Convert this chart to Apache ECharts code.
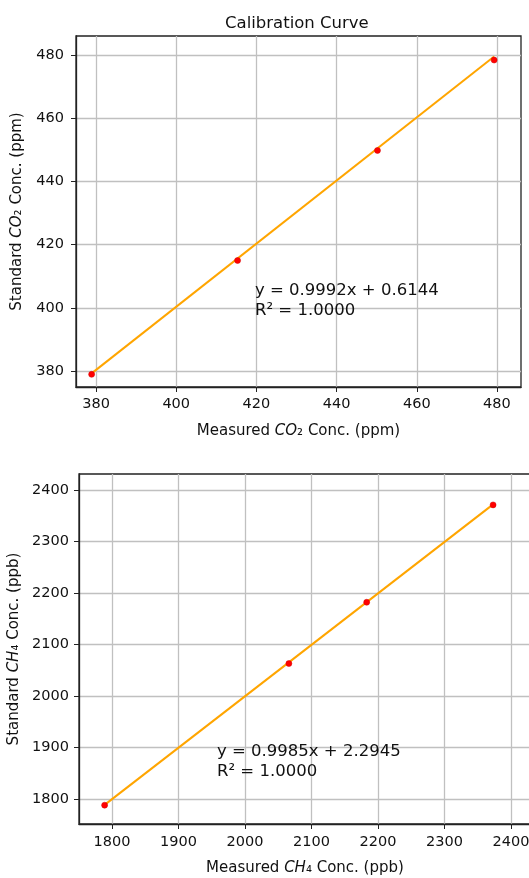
<!DOCTYPE html>
<html>
<head>
<meta charset="utf-8">
<script src="https://cdn.jsdelivr.net/npm/echarts@6/dist/echarts.min.js"></script>
<style>
  html, body { margin: 0; padding: 0; background: #fff; }
  #chart { width: 529px; height: 878px; }
</style>
</head>
<body>
<div id="chart"></div>
<script>
// CO2 calibration (ppm)
const co2Measured = [378.9, 415.3, 450.2, 479.3]
const co2Standard = [379.0, 415.0, 449.8, 478.4]
const co2FitX = [378.9, 479.3]
const co2FitY = [379.3, 479.5]
const co2Ticks = [380, 400, 420, 440, 460, 480]

// CH4 calibration (ppb)
const ch4Measured = [1789, 2066, 2183, 2373]
const ch4Standard = [1788, 2063, 2182, 2371]
const ch4FitX = [1789, 2373]
const ch4FitY = [1788.6, 2372]
const ch4Ticks = [1800, 1900, 2000, 2100, 2200, 2300, 2400]

const FONT = 'DejaVu Sans'
const INK = '#111'

const chart = echarts.init(document.getElementById('chart'), null, { renderer: 'canvas' })

function pairs(xs, ys) {
  return xs.map((x, i) => [x, ys[i]])
}

function valueAxis(gridIndex, min, max, ticks, name, gap, margin, extra) {
  return Object.assign({
    type: 'value',
    gridIndex,
    min,
    max,
    name,
    nameLocation: 'middle',
    nameGap: gap,
    nameTextStyle: {
      color: INK,
      fontFamily: FONT,
      fontSize: 15,
      rich: {
        n: { color: INK, fontFamily: FONT, fontSize: 15 },
        i: { color: INK, fontFamily: FONT, fontSize: 15, fontStyle: 'italic' }
      }
    },
    axisLine: { show: true, lineStyle: { color: '#222', width: 1.3 } },
    axisTick: { show: true, inside: false, length: 5, customValues: ticks, lineStyle: { color: '#222', width: 1 } },
    axisLabel: {
      customValues: ticks,
      formatter: v => String(v),
      color: INK, fontFamily: FONT, fontSize: 14.5, margin
    },
    splitLine: { show: true, lineStyle: { color: '#c0c0c0', width: 1.3 } }
  }, extra || {})
}

const gridBase = { show: true, borderColor: '#222', borderWidth: 1.3, containLabel: false, outerBoundsMode: 'none' }

const option = {
  animation: false,
  backgroundColor: '#fff',
  title: {
    text: 'Calibration Curve',
    left: 220,
    top: 10,
    textStyle: { color: INK, fontFamily: FONT, fontSize: 16.5, fontWeight: 'normal' }
  },
  grid: [
    Object.assign({ left: 76, top: 36, width: 445, height: 351 }, gridBase),
    Object.assign({ left: 79, top: 474, width: 452, height: 350 }, gridBase)
  ],
  xAxis: [
    valueAxis(0, 375, 486, co2Ticks, '{n|Measured }{i|CO}{n|₂ Conc. (ppm)}', 37, 10),
    valueAxis(1, 1750.5, 2430, ch4Ticks, '{n|Measured }{i|CH}{n|₄ Conc. (ppb)}', 37, 11)
  ],
  yAxis: [
    valueAxis(0, 375, 486, co2Ticks, '{n|Standard }{i|CO}{n|₂ Conc. (ppm)}', 51, 12, { nameRotate: 90 }),
    valueAxis(1, 1751.5, 2431, ch4Ticks, '{n|Standard }{i|CH}{n|₄ Conc. (ppb)}', 53, 10, { nameRotate: 90 })
  ],
  graphic: [
    {
      type: 'text', left: 255, top: 281, z: 100,
      style: { text: 'y = 0.9992x + 0.6144\nR² = 1.0000', fill: INK, font: '16.5px "DejaVu Sans"', lineHeight: 20 }
    },
    {
      type: 'text', left: 217, top: 742, z: 100,
      style: { text: 'y = 0.9985x + 2.2945\nR² = 1.0000', fill: INK, font: '16.5px "DejaVu Sans"', lineHeight: 20 }
    }
  ],
  series: [
    {
      type: 'line', xAxisIndex: 0, yAxisIndex: 0, z: 2,
      data: pairs(co2FitX, co2FitY), showSymbol: false,
      lineStyle: { color: '#ffa500', width: 2 }
    },
    {
      type: 'scatter', xAxisIndex: 0, yAxisIndex: 0, z: 3,
      data: pairs(co2Measured, co2Standard), symbolSize: 6,
      itemStyle: { color: '#ff0000', borderColor: '#d40000', borderWidth: 0.5, opacity: 1 }
    },
    {
      type: 'line', xAxisIndex: 1, yAxisIndex: 1, z: 2,
      data: pairs(ch4FitX, ch4FitY), showSymbol: false,
      lineStyle: { color: '#ffa500', width: 2 }
    },
    {
      type: 'scatter', xAxisIndex: 1, yAxisIndex: 1, z: 3,
      data: pairs(ch4Measured, ch4Standard), symbolSize: 6,
      itemStyle: { color: '#ff0000', borderColor: '#d40000', borderWidth: 0.5, opacity: 1 }
    }
  ]
}

chart.setOption(option)
</script>
</body>
</html>
